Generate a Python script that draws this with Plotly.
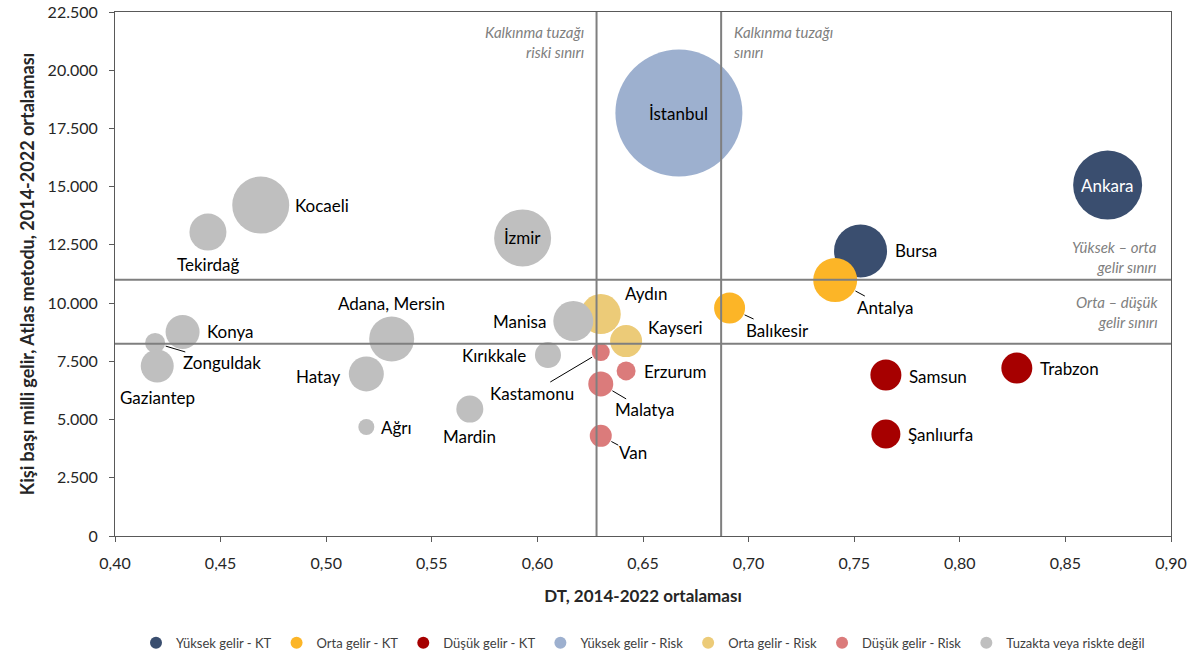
import plotly.graph_objects as go

# ---------------- DATA ----------------
iller = ["İstanbul", "Ankara", "Bursa", "Antalya", "Balıkesir", "Aydın", "Kayseri",
         "Erzurum", "Malatya", "Van", "Kastamonu", "Samsun", "Trabzon", "Şanlıurfa",
         "Kocaeli", "Tekirdağ", "İzmir", "Manisa", "Kırıkkale", "Mardin",
         "Adana, Mersin", "Hatay", "Ağrı", "Konya", "Zonguldak", "Gaziantep"]
dt = [0.667, 0.870, 0.753, 0.741, 0.691, 0.630, 0.642,
      0.642, 0.630, 0.630, 0.630, 0.765, 0.827, 0.765,
      0.469, 0.444, 0.593, 0.617, 0.605, 0.568,
      0.531, 0.519, 0.519, 0.432, 0.419, 0.420]
gelir = [18160, 15070, 12240, 10990, 9790, 9530, 8370,
         7090, 6530, 4300, 7900, 6910, 7210, 4380,
         14210, 13050, 12800, 9230, 7770, 5450,
         8460, 6960, 4680, 8760, 8290, 7300]
buyukluk = [127, 69, 53, 44, 31, 40, 32,
            19, 25, 22, 18, 31, 31, 29,
            57, 37, 57, 40, 26, 27,
            45, 35, 16, 34, 20, 33]
grup = ["Yüksek gelir - Risk", "Yüksek gelir - KT", "Yüksek gelir - KT", "Orta gelir - KT",
        "Orta gelir - KT", "Orta gelir - Risk", "Orta gelir - Risk",
        "Düşük gelir - Risk", "Düşük gelir - Risk", "Düşük gelir - Risk", "Düşük gelir - Risk",
        "Düşük gelir - KT", "Düşük gelir - KT", "Düşük gelir - KT",
        "Tuzakta veya riskte değil", "Tuzakta veya riskte değil", "Tuzakta veya riskte değil",
        "Tuzakta veya riskte değil", "Tuzakta veya riskte değil", "Tuzakta veya riskte değil",
        "Tuzakta veya riskte değil", "Tuzakta veya riskte değil", "Tuzakta veya riskte değil",
        "Tuzakta veya riskte değil", "Tuzakta veya riskte değil", "Tuzakta veya riskte değil"]
gruplar = ["Yüksek gelir - KT", "Orta gelir - KT", "Düşük gelir - KT",
           "Yüksek gelir - Risk", "Orta gelir - Risk", "Düşük gelir - Risk",
           "Tuzakta veya riskte değil"]

dt_risk_siniri = 0.628
dt_tuzak_siniri = 0.687
yuksek_orta_siniri = 11000
orta_dusuk_siniri = 8250

x_ticks = [0.40, 0.45, 0.50, 0.55, 0.60, 0.65, 0.70, 0.75, 0.80, 0.85, 0.90]
y_ticks = [0, 2500, 5000, 7500, 10000, 12500, 15000, 17500, 20000, 22500]

# ---------------- STYLE ----------------
renkler = {
    "Yüksek gelir - KT": "#3A4E6F",
    "Orta gelir - KT": "#FCB527",
    "Düşük gelir - KT": "#A60000",
    "Yüksek gelir - Risk": "#9DB0CF",
    "Orta gelir - Risk": "#ECCB78",
    "Düşük gelir - Risk": "#DB7B7B",
    "Tuzakta veya riskte değil": "#BFBFBF",
}
FONT = "Lato"

# label placement: (mode, dx, dy) ; mode c=center, l=left anchor, r=right anchor, a=leader line
etiket = {
    "İstanbul": ("c", 0, 0), "Ankara": ("c", 0, 0), "İzmir": ("c", 0, 0),
    "Kocaeli": ("l", 32, 0), "Tekirdağ": ("c", 0, -32), "Bursa": ("l", 32, 0),
    "Aydın": ("l", 22, 21), "Kayseri": ("l", 20, 14), "Manisa": ("r", -25, 0),
    "Kırıkkale": ("r", -20, 0), "Erzurum": ("l", 16, -1), "Mardin": ("c", 0, -27),
    "Adana, Mersin": ("c", 0, 35), "Hatay": ("r", -24, -3), "Ağrı": ("l", 13, 0),
    "Konya": ("l", 22, 0), "Gaziantep": ("c", 0, -32), "Samsun": ("l", 21, -1),
    "Trabzon": ("l", 21, 0), "Şanlıurfa": ("l", 20, -1),
    "Antalya": ("a", 50, 27), "Balıkesir": ("a", 48, 22), "Kastamonu": ("a", -69, 41),
    "Malatya": ("a", 44, 26), "Van": ("a", 32, 17), "Zonguldak": ("a", 67, 20),
}

fig = go.Figure()
for g in gruplar:
    idx = [i for i, gg in enumerate(grup) if gg == g]
    fig.add_trace(go.Scatter(
        x=[dt[i] for i in idx], y=[gelir[i] for i in idx],
        mode="markers", name=g,
        marker=dict(size=[buyukluk[i] for i in idx], sizemode="diameter", sizeref=1,
                    color=renkler[g], opacity=1, line=dict(width=0)),
        text=[iller[i] for i in idx], hoverinfo="text",
    ))

ann = []
for i, il in enumerate(iller):
    mode, dx, dy = etiket[il]
    col = "white" if il == "Ankara" else "black"
    base = dict(x=dt[i], y=gelir[i], text=il, font=dict(family=FONT, size=17, color=col))
    if mode == "a":
        ann.append(dict(base, showarrow=True, arrowhead=0, arrowwidth=1, arrowcolor="black",
                        ax=dx, ay=dy, standoff=buyukluk[i] / 2 + 1, borderpad=0))
    else:
        xa = {"c": "center", "l": "left", "r": "right"}[mode]
        ann.append(dict(base, showarrow=False, xanchor=xa, yanchor="middle",
                        xshift=dx, yshift=dy))

grey_it = dict(family=FONT, size=15, color="#808080", style="italic")
ann += [
    dict(x=dt_risk_siniri, y=1, yref="paper", xanchor="right", yanchor="top", xshift=-11, yshift=-9,
         text="Kalkınma tuzağı<br>riski sınırı", align="right", showarrow=False, font=grey_it),
    dict(x=dt_tuzak_siniri, y=1, yref="paper", xanchor="left", yanchor="top", xshift=11, yshift=-9,
         text="Kalkınma tuzağı<br>sınırı", align="left", showarrow=False, font=grey_it),
    dict(x=1, xref="paper", y=yuksek_orta_siniri, xanchor="right", yanchor="bottom", xshift=-12, yshift=2,
         text="Yüksek – orta<br>gelir sınırı", align="right", showarrow=False, font=grey_it),
    dict(x=1, xref="paper", y=yuksek_orta_siniri, xanchor="right", yanchor="top", xshift=-10, yshift=-11,
         text="Orta – düşük<br>gelir sınırı", align="right", showarrow=False, font=grey_it),
]

line = dict(color="#7F7F7F", width=2)
shapes = [
    dict(type="line", xref="x", yref="paper", x0=dt_risk_siniri, x1=dt_risk_siniri, y0=0, y1=1, line=line),
    dict(type="line", xref="x", yref="paper", x0=dt_tuzak_siniri, x1=dt_tuzak_siniri, y0=0, y1=1, line=line),
    dict(type="line", xref="paper", yref="y", x0=0, x1=1, y0=yuksek_orta_siniri, y1=yuksek_orta_siniri, line=line),
    dict(type="line", xref="paper", yref="y", x0=0, x1=1, y0=orta_dusuk_siniri, y1=orta_dusuk_siniri, line=line),
]

axis_common = dict(showline=True, linecolor="#595959", linewidth=1, mirror=True,
                   ticks="outside", ticklen=5, tickcolor="#595959", showgrid=False,
                   zeroline=False, automargin=False, ticklabelstandoff=8,
                   tickfont=dict(family=FONT, size=16, color="#262626"))

fig.update_layout(
    width=1198, height=657,
    margin=dict(l=115, r=27, t=12, b=121, autoexpand=False),
    paper_bgcolor="white", plot_bgcolor="white",
    separators=",.",
    annotations=ann, shapes=shapes,
    xaxis=dict(axis_common, range=[0.40, 0.90], tickvals=x_ticks, tickformat=".2f",
               title=dict(text="<b>DT, 2014-2022 ortalaması</b>", standoff=18,
                          font=dict(family=FONT, size=17, color="#262626"))),
    yaxis=dict(axis_common, range=[0, 22500], tickvals=y_ticks, tickformat=",.0f",
               title=dict(text="<b>Kişi başı milli gelir, Atlas metodu, 2014-2022 ortalaması</b>",
                          standoff=8, font=dict(family=FONT, size=18, color="#262626"))),
    legend=dict(orientation="h", x=0.5, xanchor="center", y=-0.204, yanchor="middle",
                font=dict(family=FONT, size=13, color="#404040"), itemsizing="constant",
                itemwidth=30, traceorder="normal"),
    showlegend=True,
)

fig.write_html("out.html", config={"displayModeBar": False},
               post_script="document.body.style.margin='0';")
